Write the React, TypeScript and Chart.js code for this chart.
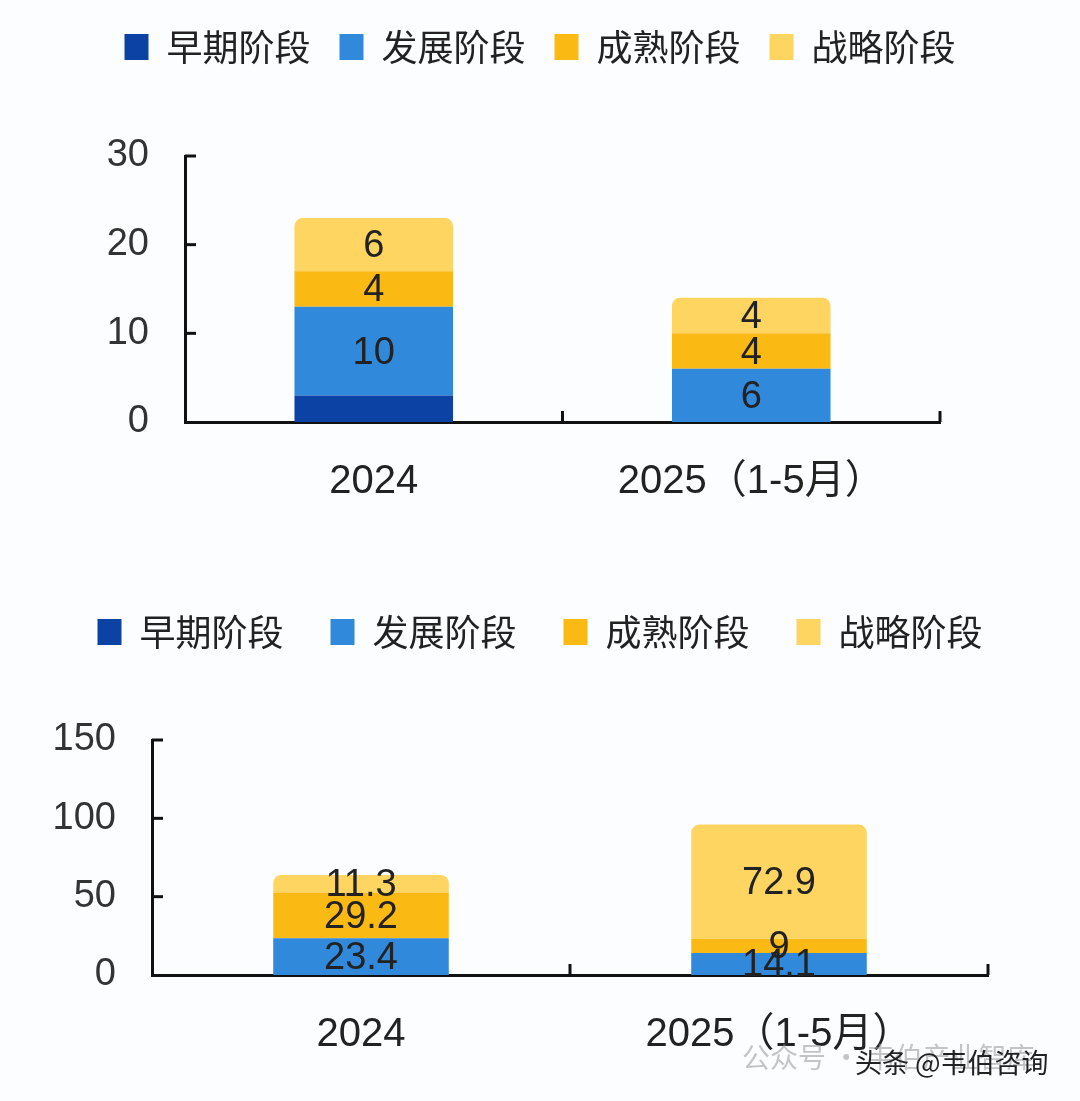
import React, { useEffect, useRef } from 'react';
import { Chart, registerables } from 'chart.js';

Chart.register(...registerables);

// legend names and colours shared by both charts
const stages = ['早期阶段', '发展阶段', '成熟阶段', '战略阶段'];
const stageColors = ['#0c42a3', '#3189dc', '#fbb914', '#fdd560'];
const categories = ['2024', '2025（1-5月）'];

// chart 1: counts
const countEarly = [3, 0];
const countGrowth = [10, 6];
const countMature = [4, 4];
const countStrategic = [6, 4];
const countTicks = [0, 10, 20, 30];

// chart 2: amounts
const amountEarly = [0, 0];
const amountGrowth = [23.4, 14.1];
const amountMature = [29.2, 9];
const amountStrategic = [11.3, 72.9];
const amountTicks = [0, 50, 100, 150];

const numFont = '"Liberation Sans", Arial, "Noto Sans CJK SC", sans-serif';
const cjkFont = '"Noto Sans CJK SC", sans-serif';

// values inside each segment (early stage left unlabelled as in the source)
const segmentLabels = {
  id: 'segmentLabels',
  afterDatasetsDraw(chart: Chart) {
    const { ctx } = chart;
    ctx.save();
    ctx.font = `38px ${numFont}`;
    ctx.fillStyle = '#222';
    ctx.textAlign = 'center';
    ctx.textBaseline = 'middle';
    chart.data.datasets.forEach((ds, di) => {
      if (di === 0) return;
      const meta = chart.getDatasetMeta(di);
      meta.data.forEach((el: any, i) => {
        const v = ds.data[i] as number;
        if (!v) return;
        const { x, y, base } = el.getProps(['x', 'y', 'base'], true);
        ctx.fillText(String(v), x, (y + base) / 2 + 2);
      });
    });
    ctx.restore();
  },
};

// short ticks pointing into the plot
const inwardTicks = {
  id: 'inwardTicks',
  afterDraw(chart: Chart) {
    const { ctx, chartArea, scales } = chart;
    ctx.save();
    ctx.strokeStyle = '#111';
    ctx.lineWidth = 3;
    scales.y.ticks.forEach((t) => {
      if (t.value === 0) return;
      const py = scales.y.getPixelForValue(t.value);
      ctx.beginPath();
      ctx.moveTo(chartArea.left, py);
      ctx.lineTo(chartArea.left + 11, py);
      ctx.stroke();
    });
    for (let i = 0; i < categories.length; i++) {
      const px = scales.x.getPixelForValue(i + 0.5);
      ctx.beginPath();
      ctx.moveTo(px, chartArea.bottom);
      ctx.lineTo(px, chartArea.bottom - 11);
      ctx.stroke();
    }
    ctx.restore();
  },
};

function legendHeight(h: number) {
  return {
    id: 'legendHeight',
    beforeInit(chart: any) {
      const lg = chart.legend;
      if (!lg) return;
      const orig = lg.fit;
      lg.fit = function () {
        orig.call(this);
        this.height = h;
      };
    },
  };
}

interface StackProps {
  series: number[][];
  ticks: number[];
  height: number;
  axisLeft: number;
  axisRight: number;
  padTop: number;
  legendH: number;
  legendPad: number;
  xAxisH: number;
}

function StackedChart({ series, ticks, height, axisLeft, axisRight, padTop, legendH, legendPad, xAxisH }: StackProps) {
  const ref = useRef<HTMLCanvasElement>(null);

  useEffect(() => {
    if (!ref.current) return;
    const chart = new Chart(ref.current, {
      type: 'bar',
      data: {
        labels: categories,
        datasets: series.map((d, i) => ({
          label: stages[i],
          data: d,
          backgroundColor: stageColors[i],
          borderWidth: 0,
          borderSkipped: false,
          borderRadius: i === 3 ? { topLeft: 8, topRight: 8, bottomLeft: 0, bottomRight: 0 } : 0,
          barPercentage: 0.42,
          categoryPercentage: 1,
        })),
      },
      options: {
        animation: false,
        responsive: false,
        devicePixelRatio: 1,
        layout: { padding: { top: padTop, left: 0, right: 0, bottom: 0 } },
        plugins: {
          tooltip: { enabled: false },
          legend: {
            position: 'top',
            labels: {
              boxWidth: 24,
              boxHeight: 26,
              padding: legendPad,
              color: '#222',
              font: { family: cjkFont, size: 36 },
            },
          },
        },
        scales: {
          x: {
            stacked: true,
            grid: { display: false, drawTicks: false },
            border: { color: '#111', width: 3 },
            ticks: { color: '#222', padding: 36, font: { family: numFont, size: 40 } },
            afterFit: (s: any) => { s.height = xAxisH; },
          },
          y: {
            stacked: true,
            min: ticks[0],
            max: ticks[ticks.length - 1],
            grid: { display: false, drawTicks: false },
            border: { color: '#111', width: 3 },
            ticks: { stepSize: ticks[1] - ticks[0], color: '#333', padding: 36, font: { family: numFont, size: 38 } },
            afterFit: (s: any) => { s.width = axisLeft; },
          },
          y2: {
            position: 'right',
            display: true,
            grid: { display: false, drawTicks: false },
            border: { display: false },
            ticks: { display: false },
            afterFit: (s: any) => { s.width = axisRight; },
          },
        },
      },
      plugins: [legendHeight(legendH), segmentLabels, inwardTicks],
    });
    return () => chart.destroy();
  }, []);

  return <canvas ref={ref} width={1080} height={height} style={{ display: 'block' }} />;
}

export default function App() {
  useEffect(() => {
    document.body.style.margin = '0';
  }, []);

  return (
    <div style={{ position: 'relative', width: 1080, height: 1101, background: '#fcfdfe', overflow: 'hidden' }}>
      <div style={{ position: 'absolute', left: 0, top: 0 }}>
        <StackedChart
          series={[countEarly, countGrowth, countMature, countStrategic]}
          ticks={countTicks}
          height={540}
          axisLeft={185}
          axisRight={140}
          padTop={0}
          legendH={156}
          legendPad={29}
          xAxisH={118}
        />
      </div>
      <div style={{ position: 'absolute', left: 0, top: 560 }}>
        <StackedChart
          series={[amountEarly, amountGrowth, amountMature, amountStrategic]}
          ticks={amountTicks}
          height={541}
          axisLeft={152}
          axisRight={92}
          padTop={7}
          legendH={173}
          legendPad={47}
          xAxisH={126}
        />
      </div>
      <div
        style={{
          position: 'absolute', left: 742, top: 1036, fontFamily: cjkFont, fontSize: 28,
          color: 'rgba(150,150,150,0.55)', whiteSpace: 'nowrap',
        }}
      >
        公众号 · 韦伯产业智库
      </div>
      <div
        style={{
          position: 'absolute', left: 855, top: 1042, fontFamily: cjkFont, fontSize: 27,
          color: '#222', whiteSpace: 'nowrap',
        }}
      >
        头条 @韦伯咨询
      </div>
    </div>
  );
}
